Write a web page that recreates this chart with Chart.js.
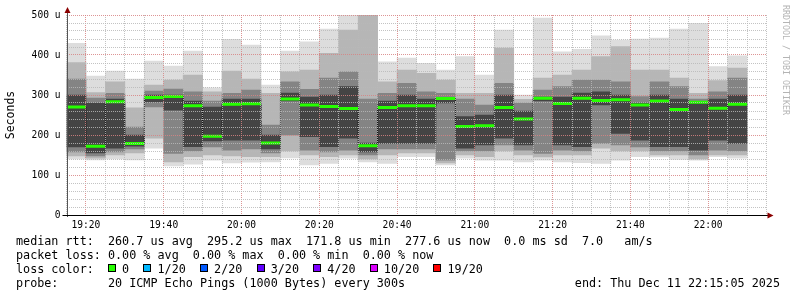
<!DOCTYPE html>
<html>
<head>
<meta charset="utf-8">
<script src="https://cdn.jsdelivr.net/npm/chart.js@4.4.1/dist/chart.umd.min.js"></script>
<style>
  html, body { margin: 0; padding: 0; background: #fff; }
  #wrap { position: relative; width: 797px; height: 297px; overflow: hidden; }
  #wrap canvas { position: absolute; left: 0; top: 0; }
  .row { position: absolute; left: 16px; font-family: "DejaVu Sans Mono", monospace; font-size: 11.75px;
         line-height: 14px; white-space: pre; color: #000; }
  .sq { display: inline-block; width: 8px; height: 8px; box-sizing: border-box; border: 1px solid #000;
        margin-right: calc(2ch - 8px); vertical-align: 1px; }
  #end { left: auto; right: 17px; }
  #mark { position: absolute; left: 781px; top: 5px; writing-mode: vertical-rl; font-family: "DejaVu Sans Mono", monospace;
          font-size: 8.3px; color: #b4b4b4; white-space: pre; }
</style>
</head>
<body>
<div id="wrap">
  <canvas id="chart" width="797" height="297"></canvas>
  <div class="row" style="top:234px">median rtt:  260.7 us avg  295.2 us max  171.8 us min  277.6 us now  0.0 ms sd  7.0   am/s</div>
  <div class="row" style="top:248px">packet loss: 0.00 % avg  0.00 % max  0.00 % min  0.00 % now</div>
  <div class="row" id="loss" style="top:262px">loss color:  </div>
  <div class="row" style="top:276px">probe:       20 ICMP Echo Pings (1000 Bytes) every 300s</div>
  <div class="row" id="end" style="top:276px">end: Thu Dec 11 22:15:05 2025</div>
  <div id="mark">RRDTOOL / TOBI OETIKER</div>
</div>
<script>
// 5 minute slots, start time of each column
const slotStart = ['19:15', '19:20', '19:25', '19:30', '19:35', '19:40', '19:45', '19:50', '19:55',
  '20:00', '20:05', '20:10', '20:15', '20:20', '20:25', '20:30', '20:35', '20:40', '20:45', '20:50', '20:55',
  '21:00', '21:05', '21:10', '21:15', '21:20', '21:25', '21:30', '21:35', '21:40', '21:45', '21:50', '21:55',
  '22:00', '22:05'];
const tickLabels = ['19:20', '19:40', '20:00', '20:20', '20:40', '21:00', '21:20', '21:40', '22:00'];
const yTickLabels = ['0', '100 u', '200 u', '300 u', '400 u', '500 u'];

// smoke (microseconds): outer range, then narrower bands towards the median
const smokeMax = [429, 347, 360, 340, 385, 372, 410, 318, 439, 425, 325, 410, 433, 465, 505, 505, 383, 392,
  379, 362, 396, 350, 462, 300, 492, 408, 414, 448, 437, 440, 442, 465, 479, 371, 398];
const smokeHi2 = [381, 306, 333, 268, 325, 337, 350, 308, 360, 340, 304, 358, 362, 404, 462, 505, 333, 362,
  354, 337, 304, 304, 417, 289, 342, 350, 362, 396, 421, 362, 362, 342, 304, 336, 367];
const smokeHi3 = [340, 292, 304, 220, 310, 315, 308, 285, 304, 312, 225, 333, 314, 342, 358, 290, 304, 329,
  308, 304, 290, 275, 329, 280, 312, 321, 337, 337, 333, 296, 333, 321, 290, 308, 342];
const smokeHi4 = [300, 280, 290, 200, 300, 300, 285, 270, 290, 290, 200, 305, 295, 300, 321, 180, 285, 300,
  290, 292, 246, 250, 300, 260, 295, 295, 305, 308, 300, 280, 300, 290, 282, 290, 300];
const smokeLo4 = [170, 155, 167, 172, 283, 262, 171, 185, 187, 187, 165, 285, 196, 171, 192, 158, 179, 179,
  179, 280, 167, 175, 192, 175, 285, 175, 171, 275, 204, 187, 171, 171, 162, 187, 179];
const smokeLo3 = [158, 148, 158, 165, 270, 154, 160, 170, 162, 165, 155, 200, 162, 158, 162, 150, 165, 165,
  165, 137, 160, 160, 175, 162, 154, 162, 160, 179, 175, 170, 160, 160, 150, 162, 160];
const smokeLo2 = [148, 142, 150, 155, 192, 133, 146, 150, 148, 146, 146, 160, 150, 146, 150, 140, 150, 155,
  155, 130, 150, 146, 160, 150, 145, 150, 150, 167, 160, 160, 150, 150, 140, 150, 150];
const smokeMin = [140, 138, 140, 138, 167, 123, 127, 137, 130, 132, 133, 143, 125, 129, 142, 133, 129, 146,
  146, 125, 142, 137, 137, 133, 137, 133, 131, 129, 137, 146, 145, 139, 137, 146, 142];
const medianRtt = [270, 172, 283, 179, 294, 296, 273, 197, 277, 278, 180, 290, 275, 271, 266, 173, 269, 273,
  273, 291, 221, 223, 269, 240, 292, 279, 292, 286, 288, 275, 285, 264, 282, 267, 277];

const lossLabels = ['0', '1/20', '2/20', '3/20', '4/20', '10/20', '19/20'];
const lossColors = ['#26ff00', '#00b8ff', '#0059ff', '#5e00ff', '#7e00ff', '#dd00ff', '#ff0000'];

const smokeShades = ['#dddddd', '#b6b6b6', '#848484', '#444444'];
const MONO = '"DejaVu Sans Mono", monospace';

// loss colour legend
const lossRow = document.getElementById('loss');
lossLabels.forEach((lbl, i) => {
  const sq = document.createElement('span');
  sq.className = 'sq';
  sq.style.background = lossColors[i];
  lossRow.appendChild(sq);
  lossRow.appendChild(document.createTextNode(lbl + (i < lossLabels.length - 1 ? '  ' : '')));
});

const startMin = 19 * 60 + 15;
function toMinutes(t) {
  const [h, m] = t.split(':').map(Number);
  return h * 60 + m - startMin;
}
function fmtMinutes(v) {
  const t = startMin + v;
  return String(Math.floor(t / 60)).padStart(2, '0') + ':' + String(t % 60).padStart(2, '0');
}
const slotLen = toMinutes(slotStart[1]) - toMinutes(slotStart[0]);
const slotCenter = slotStart.map(t => toMinutes(t) + slotLen / 2);

const bands = [
  [smokeMin, smokeMax],
  [smokeLo2, smokeHi2],
  [smokeLo3, smokeHi3],
  [smokeLo4, smokeHi4],
];

const datasets = bands.map((b, k) => ({
  type: 'bar',
  data: slotCenter.map((x, i) => ({ x: x, y: [b[0][i], b[1][i]] })),
  backgroundColor: smokeShades[k],
  borderWidth: 0,
  grouped: false,
  barPercentage: 1,
  categoryPercentage: 1,
  order: 10 - k,
}));

datasets.push({
  type: 'line',
  data: slotCenter.map((x, i) => ({ x: x, y: medianRtt[i] })),
  stepped: 'middle',
  borderColor: '#000',
  borderWidth: 1,
  borderDash: [1, 1],
  pointRadius: 0,
  order: 2,
});

datasets.push({
  type: 'line',
  data: slotCenter.map((x, i) => ({ x: x, y: medianRtt[i] })),
  showLine: false,
  pointStyle: 'line',
  pointRadius: ctx => {
    const s = ctx.chart.scales.x;
    return (s.getPixelForValue(slotLen) - s.getPixelForValue(0)) / 2;
  },
  pointBorderWidth: 3,
  pointBorderColor: '#26ff00',
  order: 1,
});

const MAJOR = 'rgba(215,130,130,0.85)';
const MINOR = 'rgba(185,185,185,0.85)';

const axesPlugin = {
  id: 'axes',
  afterDraw(chart) {
    const { ctx, chartArea: a } = chart;
    ctx.save();
    ctx.lineWidth = 1;
    ctx.strokeStyle = '#555';
    ctx.beginPath();
    ctx.moveTo(Math.round(a.left) + 0.5, a.bottom + 2);
    ctx.lineTo(Math.round(a.left) + 0.5, a.top - 5);
    ctx.stroke();
    ctx.strokeStyle = '#000';
    ctx.beginPath();
    ctx.moveTo(a.left - 4, Math.round(a.bottom) + 0.5);
    ctx.lineTo(a.right + 3, Math.round(a.bottom) + 0.5);
    ctx.stroke();
    ctx.fillStyle = '#8b0000';
    const lx = Math.round(a.left) + 0.5;
    ctx.beginPath();
    ctx.moveTo(lx - 3, a.top - 2);
    ctx.lineTo(lx + 3, a.top - 2);
    ctx.lineTo(lx, a.top - 8);
    ctx.closePath();
    ctx.fill();
    const by = Math.round(a.bottom) + 0.5;
    ctx.beginPath();
    ctx.moveTo(a.right + 1, by - 3);
    ctx.lineTo(a.right + 1, by + 3);
    ctx.lineTo(a.right + 7, by);
    ctx.closePath();
    ctx.fill();
    ctx.restore();
  },
};

Chart.defaults.font.family = MONO;
Chart.defaults.color = '#000';

new Chart(document.getElementById('chart'), {
  type: 'bar',
  data: { datasets: datasets },
  options: {
    responsive: false,
    animation: false,
    events: [],
    layout: { padding: { left: 0, top: 15, right: 30.5, bottom: 62 } },
    plugins: { legend: { display: false }, tooltip: { enabled: false } },
    scales: {
      x: {
        type: 'linear',
        min: 0,
        max: 180,
        offset: false,
        afterFit(scale) { scale.height = 20; },
        border: { display: false, dash: [1, 1] },
        grid: {
          offset: false,
          z: 1,
          drawTicks: false,
          color: ctx => tickLabels.includes(fmtMinutes(ctx.tick.value)) ? MAJOR : MINOR,
        },
        ticks: {
          stepSize: 5,
          autoSkip: false,
          maxTicksLimit: 1000,
          maxRotation: 0,
          padding: 5,
          font: { size: 9.6 },
          callback: v => {
            const lbl = fmtMinutes(v);
            return tickLabels.includes(lbl) ? lbl : '';
          },
        },
      },
      y: {
        min: 0,
        max: 500,
        afterFit(scale) { scale.width = 66.5; },
        border: { display: false, dash: [1, 1] },
        grid: {
          z: 1,
          drawTicks: false,
          color: ctx => ctx.tick.value % 100 === 0 ? MAJOR : MINOR,
        },
        title: { display: true, text: 'Seconds', font: { size: 11.5 }, padding: { top: 4, bottom: 0 } },
        ticks: {
          stepSize: 20,
          autoSkip: false,
          maxTicksLimit: 1000,
          padding: 6,
          font: { size: 9.6 },
          callback: v => v % 100 === 0 ? yTickLabels[v / 100] : '',
        },
      },
    },
  },
  plugins: [axesPlugin],
});
</script>
</body>
</html>
